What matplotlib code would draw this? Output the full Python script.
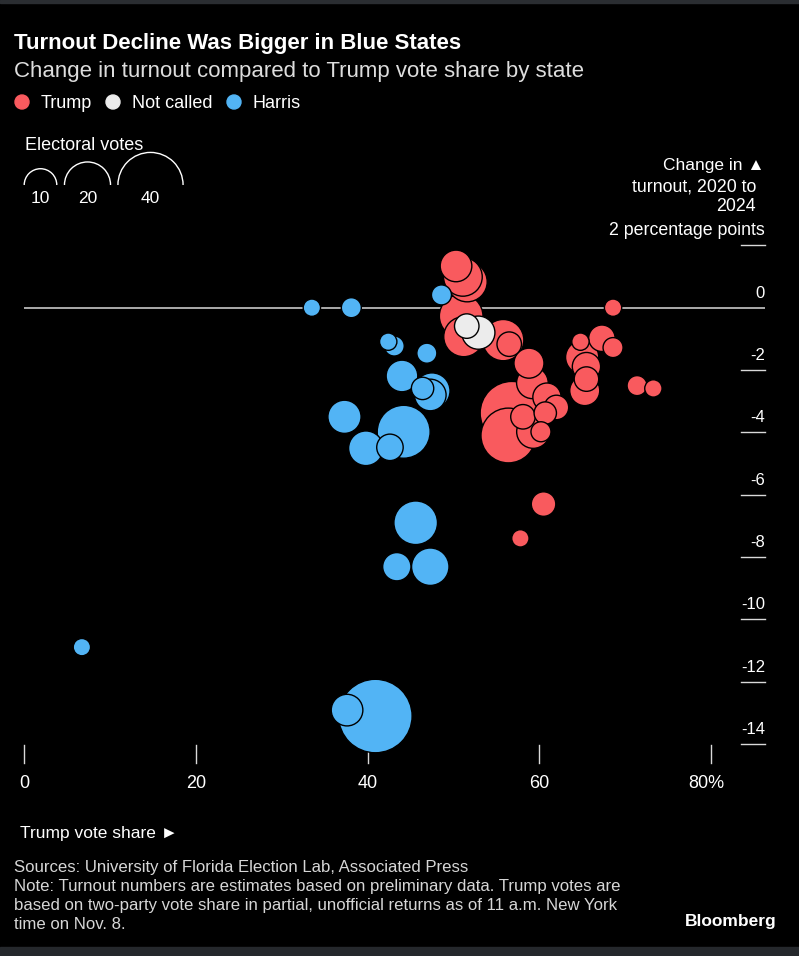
import matplotlib.pyplot as plt
from matplotlib.patches import Arc, Circle, Rectangle
import numpy as np
import pandas as pd

plt.rcParams['font.family'] = ['Liberation Sans', 'DejaVu Sans']

# Trump states: two-party Trump share (%), turnout change 2020->2024 (pts), electoral votes
trump_states = ['WI', 'MI', 'GA', 'PA', 'NC', 'OH', 'IA', 'SC', 'MO', 'LA', 'MS', 'NE',
                'KS', 'TX', 'FL', 'IN', 'MT', 'UT', 'AK', 'ND', 'SD', 'OK', 'ID', 'TN',
                'KY', 'AR', 'AL', 'WV', 'WY']
trump_share = [50.3, 51.1, 51.6, 50.9, 51.2, 55.8, 56.5, 58.8, 59.2, 60.9, 62.0, 60.7,
               58.1, 56.8, 56.4, 59.3, 60.2, 60.5, 57.8, 68.6, 64.8, 67.3, 68.6, 65.0,
               65.5, 65.5, 65.3, 71.4, 73.3]
trump_change = [1.34, 0.99, 0.83, -0.27, -0.93, -1.04, -1.17, -1.78, -2.41, -2.87, -3.2, -3.38,
                -3.5, -3.38, -4.1, -3.98, -3.98, -6.3, -7.4, 0.0, -1.09, -0.98, -1.28, -1.59,
                -1.89, -2.29, -2.66, -2.5, -2.59]
trump_ev = [10, 15, 16, 19, 16, 17, 6, 9, 10, 8, 6, 5,
            6, 40, 30, 11, 4, 6, 3, 3, 3, 7, 4, 11,
            8, 6, 9, 4, 3]

# Harris states
harris_states = ['VT', 'HI', 'NH', 'DE', 'RI', 'ME', 'CO', 'NM', 'VA', 'MN', 'MA', 'NY',
                 'WA', 'CT', 'IL', 'OR', 'NJ', 'MD', 'CA', 'DC']
harris_share = [33.5, 38.1, 48.6, 42.4, 43.1, 46.9, 44.0, 46.4, 47.5, 47.3, 37.3, 44.2,
                39.8, 42.6, 45.6, 43.4, 47.3, 37.6, 40.9, 6.7]
harris_change = [0.0, 0.0, 0.41, -1.09, -1.23, -1.46, -2.19, -2.59, -2.67, -2.8, -3.5, -3.98,
                 -4.51, -4.48, -6.9, -8.31, -8.31, -12.91, -13.1, -10.89]
harris_ev = [3, 4, 4, 3, 4, 4, 10, 5, 13, 10, 11, 28,
             12, 7, 19, 8, 14, 10, 54, 3]

# not called yet
nc_states = ['NV', 'AZ']
nc_share = [51.55, 52.9]
nc_change = [-0.59, -0.8]
nc_ev = [6, 11]

colors = {'Trump': '#f95a5e', 'Not called': '#ececec', 'Harris': '#52b4f5'}

df = pd.concat([
    pd.DataFrame({'state': trump_states, 'share': trump_share, 'change': trump_change,
                  'ev': trump_ev, 'winner': 'Trump'}),
    pd.DataFrame({'state': harris_states, 'share': harris_share, 'change': harris_change,
                  'ev': harris_ev, 'winner': 'Harris'}),
    pd.DataFrame({'state': nc_states, 'share': nc_share, 'change': nc_change,
                  'ev': nc_ev, 'winner': 'Not called'}),
])
df = df.sort_values('ev', ascending=False, kind='stable')

W, H = 799, 956
fig = plt.figure(figsize=(W / 100, H / 100), dpi=100, facecolor='black')

# plot area in pixel terms
x0_px, x_right_px, px_per_pct = 24.4, 765, 8.581
y0_px, px_per_pt = 307.7, 31.17
top_px, bot_px = 240, 765

ax = fig.add_axes([x0_px / W, 1 - bot_px / H, (x_right_px - x0_px) / W, (bot_px - top_px) / H])
ax.set_facecolor('black')
ax.axis('off')
xmax = (x_right_px - x0_px) / px_per_pct
ax.set_xlim(0, xmax)
ax.set_ylim((y0_px - bot_px) / px_per_pt, (y0_px - top_px) / px_per_pt)

ax.axhline(0, color='#b8b8b8', lw=1.3, zorder=1)

# bubbles
ax.scatter(df['share'], df['change'], s=51.84 * df['ev'],
           c=[colors[w] for w in df['winner']], edgecolors='black', linewidths=1.0, zorder=3)

# y ticks (right side)
tick_col = '#d9d9d9'
x_tick0 = (741 - x0_px) / px_per_pct
for v in [2, -2, -4, -6, -8, -10, -12, -14]:
    ax.plot([x_tick0, xmax], [v, v], color=tick_col, lw=1.0, zorder=1, clip_on=False)
for v in [0, -2, -4, -6, -8, -10, -12, -14]:
    ax.text(xmax, v + 10 / px_per_pt, f'{v}', color='white', fontsize=12,
            ha='right', va='baseline')

# x ticks
for v in [0, 20, 40, 60, 80]:
    ax.plot([v, v], [(y0_px - 745) / px_per_pt, (y0_px - 763) / px_per_pt],
            color=tick_col, lw=1.0, clip_on=False)
    lab = '80%' if v == 80 else str(v)
    xx = v - 0.5 if v == 80 else v
    ax.text(xx, (y0_px - 788) / px_per_pt, lab, color='white', fontsize=13,
            ha='center', va='baseline')

# overlay in pixel coordinates for annotations
ov = fig.add_axes([0, 0, 1, 1])
ov.set_xlim(0, W)
ov.set_ylim(H, 0)
ov.axis('off')
ov.patch.set_visible(False)

ov.add_patch(Rectangle((0, 0), W, 3, color='#2a2d31'))
ov.add_patch(Rectangle((0, 947), W, 9, color='#25282c'))

ov.text(14, 49, 'Turnout Decline Was Bigger in Blue States', color='white',
        fontsize=16, fontweight='bold', va='baseline')
ov.text(14, 77, 'Change in turnout compared to Trump vote share by state', color='#dddddd',
        fontsize=16, va='baseline')

# colour legend
for cx, tx, lab in [(22, 41, 'Trump'), (113, 132, 'Not called'), (234, 253, 'Harris')]:
    ov.add_patch(Circle((cx, 102), 7, color=colors[lab]))
    ov.text(tx, 108, lab, color='white', fontsize=13, va='baseline')

# size legend
ov.text(25, 150, 'Electoral votes', color='white', fontsize=13, va='baseline')
for cx, ev_val in [(40.5, 10), (87.5, 20), (150.5, 40)]:
    r = 5.15 * np.sqrt(ev_val)
    ov.add_patch(Arc((cx, 185), 2 * r, 2 * r, theta1=180, theta2=360, color='white', lw=1.0))
    ov.text(cx, 203, str(ev_val), color='white', fontsize=12.5, ha='center', va='baseline')

# y axis title
ov.text(765, 170, 'Change in \u25b2', color='white', fontsize=12.5, ha='right', va='baseline')
ov.text(756, 191, 'turnout, 2020 to', color='white', fontsize=12.8, ha='right', va='baseline')
ov.text(756, 211, '2024', color='white', fontsize=12.8, ha='right', va='baseline')
ov.text(765, 235, '2 percentage points', color='white', fontsize=12.8, ha='right', va='baseline')

ov.text(20, 838, 'Trump vote share \u25ba', color='white', fontsize=12.5, va='baseline')

foot = ('Sources: University of Florida Election Lab, Associated Press\n'
        'Note: Turnout numbers are estimates based on preliminary data. Trump votes are\n'
        'based on two-party vote share in partial, unofficial returns as of 11 a.m. New York\n'
        'time on Nov. 8.')
for i, line in enumerate(foot.split('\n')):
    ov.text(14, 872 + 19 * i, line, color='#d6d6d6', fontsize=12.1, va='baseline')
ov.text(777, 926, 'Bloomberg', color='white', fontsize=12.5, fontweight='bold',
        ha='right', va='baseline')

fig.savefig('out.png', dpi=100, facecolor='black')
